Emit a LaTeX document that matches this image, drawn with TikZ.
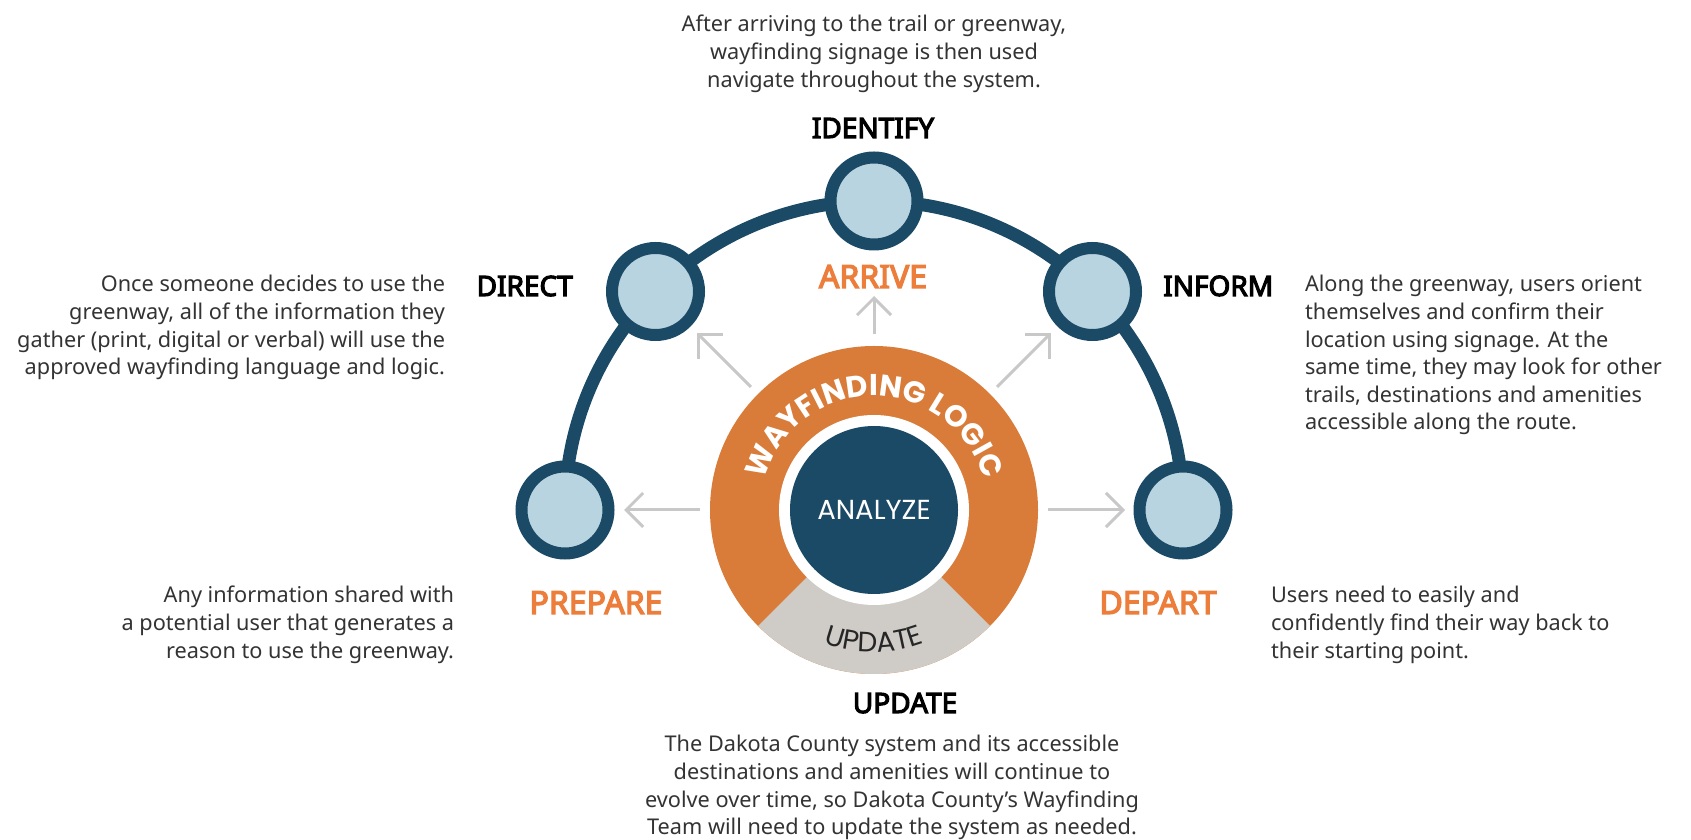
\documentclass[tikz,border=0pt]{standalone}
\usepackage{fontspec}
\setmainfont{Noto Sans}
\newfontfamily\popfont{Poppins}
\newfontfamily\boldlabelfont{Noto Sans}[FakeBold=4]
\usetikzlibrary{arrows.meta,calc,decorations.text}
\definecolor{navy}{HTML}{1B4A66}
\definecolor{lightblue}{HTML}{B9D4E1}
\definecolor{ringorange}{HTML}{D97C3A}
\definecolor{labelorange}{HTML}{EC7D3A}
\definecolor{sectorgray}{HTML}{CFCCC8}
\definecolor{arrowgray}{HTML}{C8C8C8}
\definecolor{bodytext}{HTML}{333333}
\newcommand\wlfont{\popfont\bfseries\fontsize{30}{30}\selectfont}
\newcommand\updfont{\popfont\fontsize{28}{28}\selectfont}
\newcommand\firstline{\rule{0pt}{20pt}}
\begin{document}
\begin{tikzpicture}[x=1pt,y=1pt,
  stage/.style={circle, draw=navy, fill=lightblue, line width=12pt, minimum size=87pt, inner sep=0pt},
  arcline/.style={draw=navy, line width=13pt},
  flowarrow/.style={draw=arrowgray, line width=3pt, -{Straight Barb[length=17pt,width=34pt]}},
  bodyblock/.style={inner sep=0pt, outer sep=0pt, text=bodytext, font=\fontsize{21.7}{27.6}\selectfont},
  steplabel/.style={inner sep=0pt, text=black, font=\boldlabelfont\fontsize{28}{30}\selectfont},
  phaselabel/.style={inner sep=0pt, text=labelorange, font=\boldlabelfont\fontsize{32}{34}\selectfont},
]
\useasboundingbox (0,0) rectangle (1691,840);
\coordinate (C) at (874,330);
\coordinate (pP) at ($(C)+(180:309)$);
\coordinate (pD) at ($(C)+(135:309)$);
\coordinate (pI) at ($(C)+(90:309)$);
\coordinate (pF) at ($(C)+(45:309)$);
\coordinate (pR) at ($(C)+(0:309)$);
% main arc
\draw[arcline] (pP) arc[start angle=180, end angle=0, radius=309];
% stage circles
\node[stage] (prepare) at (pP) {};
\node[stage] (direct) at (pD) {};
\node[stage] (identify) at (pI) {};
\node[stage] (inform) at (pF) {};
\node[stage] (depart) at (pR) {};
% centre disc
\fill[ringorange] (C) circle (164);
\fill[sectorgray] (C) -- ($(C)+(225:164)$) arc[start angle=225, end angle=315, radius=164] -- cycle;
\fill[white] (C) circle (95);
\node[circle, fill=navy, minimum size=168pt, inner sep=0pt, text=white, font=\popfont\fontsize{27.5}{27.5}\selectfont] (analyze) at (C) {ANALYZE};
\path[decorate, decoration={text along path, text={|\wlfont|WAYFINDING LOGIC}, text align=center, text color=white}]
  ($(C)+(200:114)$) arc[start angle=200, end angle=-20, radius=114];
\path[decorate, decoration={text along path, text={|\updfont|UPDATE}, text align=center, text color=black!85}]
  ($(C)+(200:142)$) arc[start angle=200, end angle=340, radius=142];
% arrows
\coordinate (aPs) at ($(C)+(180:174)$); \coordinate (aPe) at ($(C)+(180:250)$);
\coordinate (aDs) at ($(C)+(135:174)$); \coordinate (aDe) at ($(C)+(135:250)$);
\coordinate (aIs) at ($(C)+(90:176)$);  \coordinate (aIe) at ($(C)+(90:214)$);
\coordinate (aFs) at ($(C)+(45:174)$);  \coordinate (aFe) at ($(C)+(45:250)$);
\coordinate (aRs) at ($(C)+(0:174)$);   \coordinate (aRe) at ($(C)+(0:251)$);
\draw[flowarrow] (aPs) -- (aPe);
\draw[flowarrow] (aDs) -- (aDe);
\draw[flowarrow] (aIs) -- (aIe);
\draw[flowarrow] (aFs) -- (aFe);
\draw[flowarrow] (aRs) -- (aRe);
% labels
\node[steplabel, anchor=base] (lidentify) at (873,702) {IDENTIFY};
\node[steplabel, anchor=base east] (ldirect) at (573,544) {DIRECT};
\node[steplabel, anchor=base west] (linform) at (1163,544) {INFORM};
\node[steplabel, anchor=base] (lupdate) at (905,127) {UPDATE};
\node[phaselabel, anchor=base] (larrive) at (873,552) {ARRIVE};
\node[phaselabel, anchor=base] (lprepare) at (596,226) {PREPARE};
\node[phaselabel, anchor=base] (ldepart) at (1158,226) {DEPART};
% text blocks
\node[bodyblock, align=center, anchor=north] (tidentify) at (874,828)
  {\firstline After arriving to the trail or greenway,\\ wayfinding signage is then used\\ navigate throughout the system.};
\node[bodyblock, align=right, anchor=north east] (tdirect) at (445,568)
  {\firstline Once someone decides to use the\\ greenway, all of the information they\\ gather (print, digital or verbal) will use the\\ approved wayfinding language and logic.};
\node[bodyblock, align=left, anchor=north west] (tinform) at (1305,568)
  {\firstline Along the greenway, users orient\\ themselves and confirm their\\ location using signage. At the\\ same time, they may look for other\\ trails, destinations and amenities\\ accessible along the route.};
\node[bodyblock, align=right, anchor=north east] (tprepare) at (454,257)
  {\firstline Any information shared with\\ a potential user that generates a\\ reason to use the greenway.};
\node[bodyblock, align=left, anchor=north west] (tdepart) at (1271,257)
  {\firstline Users need to easily and\\ confidently find their way back to\\ their starting point.};
\node[bodyblock, align=center, anchor=north] (tupdate) at (892,108)
  {\firstline The Dakota County system and its accessible\\ destinations and amenities will continue to\\ evolve over time, so Dakota County’s Wayfinding\\ Team will need to update the system as needed.};
\end{tikzpicture}
\end{document}
